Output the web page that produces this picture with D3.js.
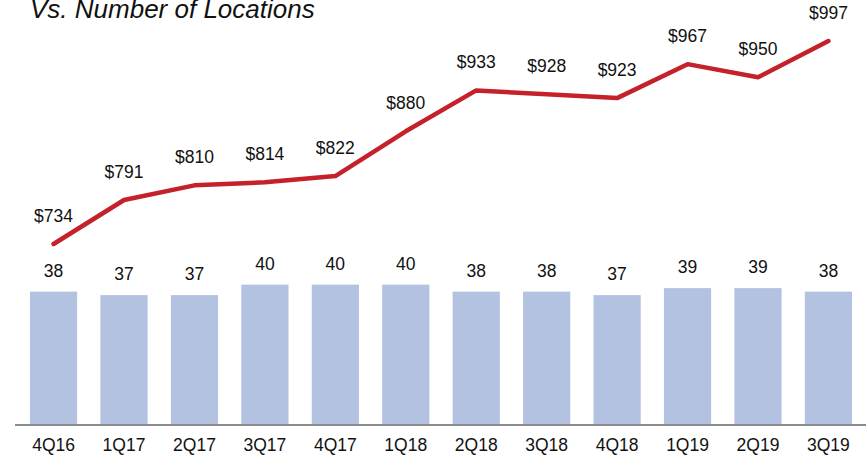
<html>
<script src="https://d3js.org/d3.v7.min.js"></script>
<body style="margin:0">
<style>
  body { font-family: "Liberation Sans", Arial, sans-serif; }
  .lbl { font-size: 17.5px; fill: #111; text-anchor: middle; }
</style>
<svg width="867" height="457"></svg>
<script>
var quarters = ["4Q16","1Q17","2Q17","3Q17","4Q17","1Q18","2Q18","3Q18","4Q18","1Q19","2Q19","3Q19"];
var revenue = [734, 791, 810, 814, 822, 880, 933, 928, 923, 967, 950, 997];
var locations = [38, 37, 37, 40, 40, 40, 38, 38, 37, 39, 39, 38];

var svg = d3.select("svg");
var baseY = 425;

var x = d3.scaleBand()
    .domain(quarters)
    .range([18, 864])
    .paddingInner(0.33)
    .paddingOuter(0.17);

var yBar = d3.scaleLinear().domain([0, 40]).range([baseY, 284.6]);
var yLine = d3.scaleLinear().domain([734, 997]).range([244, 41]);

// title (cut off at the top in the source)
svg.append("text")
    .attr("x", 30).attr("y", 18)
    .style("font-size", "26px").style("font-style", "italic").style("fill", "#111")
    .text("Vs. Number of Locations");

// bars
svg.selectAll(".bar")
    .data(locations)
    .enter().append("rect")
    .attr("x", function(d, i) { return x(quarters[i]); })
    .attr("width", x.bandwidth())
    .attr("y", function(d) { return yBar(d); })
    .attr("height", function(d) { return baseY - yBar(d); })
    .attr("fill", "#b3c2e1");

svg.selectAll(".barlbl")
    .data(locations)
    .enter().append("text")
    .attr("class", "lbl")
    .attr("x", function(d, i) { return x(quarters[i]) + x.bandwidth() / 2; })
    .attr("y", function(d) { return yBar(d) - 15; })
    .text(function(d) { return d; });

// axis
var axis = svg.append("g")
    .attr("transform", "translate(0," + baseY + ")")
    .call(d3.axisBottom(x).tickSize(0).tickPadding(14));
axis.select(".domain").attr("stroke", "#8c8c8c").attr("stroke-width", 2).attr("d", "M15,0H866");
axis.selectAll("text").style("font-size", "17.5px").style("font-family", "Liberation Sans, Arial, sans-serif").attr("fill", "#111");

// line
var line = d3.line()
    .x(function(d, i) { return x(quarters[i]) + x.bandwidth() / 2; })
    .y(function(d) { return yLine(d); });

svg.append("path")
    .datum(revenue)
    .attr("d", line)
    .attr("fill", "none")
    .attr("stroke", "#c4212b")
    .attr("stroke-width", 4.5)
    .attr("stroke-linecap", "round")
    .attr("stroke-linejoin", "round");

svg.selectAll(".revlbl")
    .data(revenue)
    .enter().append("text")
    .attr("class", "lbl")
    .attr("x", function(d, i) { return x(quarters[i]) + x.bandwidth() / 2; })
    .attr("y", function(d) { return yLine(d) - 22; })
    .text(function(d) { return "$" + d; });
</script>
</body>
</html>
